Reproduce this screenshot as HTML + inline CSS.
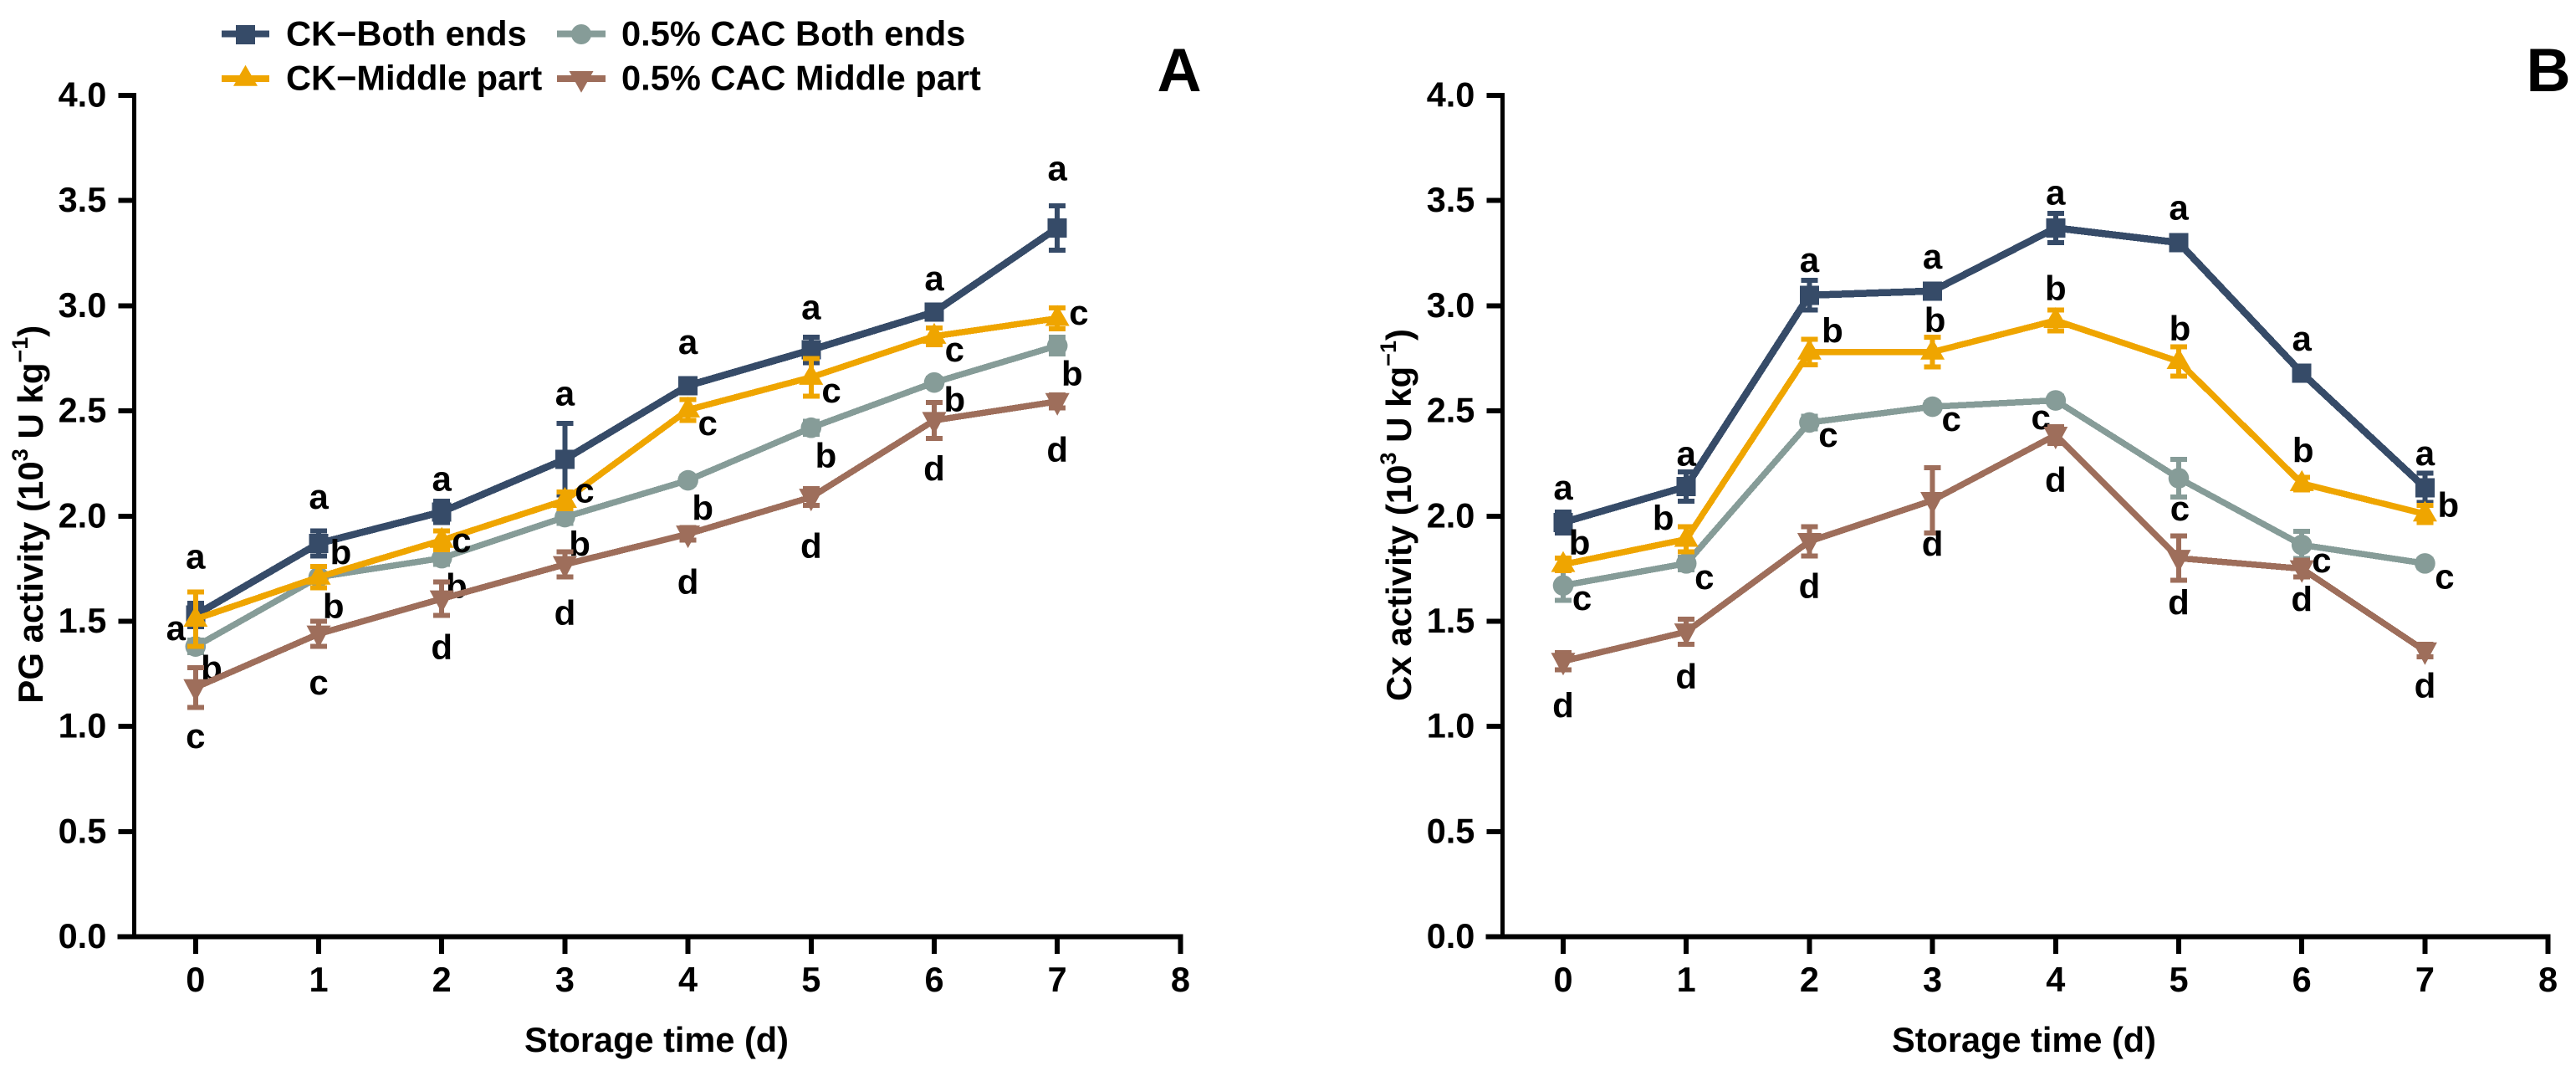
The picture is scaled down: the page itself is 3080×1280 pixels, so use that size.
<!DOCTYPE html>
<html lang="en">
<head>
<meta charset="utf-8">
<title>PG and Cx activity during storage</title>
<style>
html,body{margin:0;padding:0;background:#fff;}
svg{display:block;font-family:"Liberation Sans",Arial,sans-serif;font-weight:bold;fill:#000;}
</style>
</head>
<body>
<svg id="figure" xmlns="http://www.w3.org/2000/svg" width="3080" height="1280" viewBox="0 0 3080 1280">
  <rect width="3080" height="1280" fill="#fff"/>
  <g font-size="41.6">
    <g>
      <rect x="265" y="36.7" width="57" height="8" fill="#364B68" shape-rendering="crispEdges"/>
      <rect x="282" y="30" width="23" height="23" fill="#364B68" shape-rendering="crispEdges"/>
      <text x="342" y="54.5">CK−Both ends</text>
    </g>
    <g>
      <rect x="265" y="90" width="57" height="8" fill="#EFA500" shape-rendering="crispEdges"/>
      <polygon points="293.5,77.7 308,102.7 279,102.7" fill="#EFA500"/>
      <text x="342" y="107.5">CK−Middle part</text>
    </g>
    <g>
      <rect x="666" y="36.7" width="58" height="8" fill="#869C98" shape-rendering="crispEdges"/>
      <circle cx="695" cy="41" r="12" fill="#869C98"/>
      <text x="743" y="54.5">0.5% CAC Both ends</text>
    </g>
    <g>
      <rect x="666" y="90" width="58" height="8" fill="#9E6E5B" shape-rendering="crispEdges"/>
      <polygon points="680.5,85 709.5,85 695,110.7" fill="#9E6E5B"/>
      <text x="743" y="107.5">0.5% CAC Middle part</text>
    </g>
  </g>
  <text x="1410" y="109" font-size="73.5" text-anchor="middle">A</text>
  <text x="3047" y="109" font-size="73.5" text-anchor="middle">B</text>
  <text transform="translate(51,840.7) rotate(-90)" font-size="42">PG activity (10<tspan font-size="27" dy="-18">3</tspan><tspan dy="18"> U kg</tspan><tspan font-size="27" dy="-18">−1</tspan><tspan dy="18">)</tspan></text>
  <text transform="translate(1687,838) rotate(-90)" font-size="42">Cx activity (10<tspan font-size="27" dy="-18">3</tspan><tspan dy="18"> U kg</tspan><tspan font-size="27" dy="-18">−1</tspan><tspan dy="18">)</tspan></text>
  <text x="785" y="1257" font-size="41.5" text-anchor="middle">Storage time (d)</text>
  <text x="2420" y="1257" font-size="41.5" text-anchor="middle">Storage time (d)</text>
  <g id="panel-a"></g>
  <g id="panel-b"></g>
</svg>
<script>
/* Shared axis data */
const days = [0, 1, 2, 3, 4, 5, 6, 7];
const xTickLabels = ["0", "1", "2", "3", "4", "5", "6", "7", "8"];
const yTickLabels = ["0.0", "0.5", "1.0", "1.5", "2.0", "2.5", "3.0", "3.5", "4.0"];
const seriesNames = ["ck-both-ends", "cac-both-ends", "ck-middle-part", "cac-middle-part"];

/* Panel A: PG activity, means */
const pgCkBoth = [1.53, 1.87, 2.02, 2.27, 2.62, 2.79, 2.97, 3.37];
const pgCacBoth = [1.38, 1.71, 1.80, 1.995, 2.17, 2.42, 2.635, 2.81];
const pgCkMiddle = [1.51, 1.71, 1.885, 2.075, 2.505, 2.66, 2.855, 2.94];
const pgCacMiddle = [1.185, 1.44, 1.607, 1.77, 1.915, 2.09, 2.455, 2.545];
/* Panel A: error */
const pgCkBothErr = [0.055, 0.06, 0.05, 0.17, 0.03, 0.06, 0.03, 0.105];
const pgCacBothErr = [0.03, 0.05, 0.03, 0.03, 0.02, 0.03, 0.02, 0.04];
const pgCkMiddleErr = [0.13, 0.05, 0.045, 0.04, 0.05, 0.09, 0.04, 0.05];
const pgCacMiddleErr = [0.095, 0.06, 0.08, 0.06, 0.03, 0.04, 0.085, 0.03];
/* Panel A: significance letters */
const pgCkBothLetters = ["a", "a", "a", "a", "a", "a", "a", "a"];
const pgCacBothLetters = ["b", "b", "b", "b", "b", "b", "b", "b"];
const pgCkMiddleLetters = ["a", "b", "c", "c", "c", "c", "c", "c"];
const pgCacMiddleLetters = ["c", "c", "d", "d", "d", "d", "d", "d"];
/* Panel A: letter offsets from each mean, in days and in activity units */
const pgCkBothLetterDay = [0, 0, 0, 0, 0, 0, 0, 0];
const pgCkBothLetterRise = [0.22, 0.165, 0.10, 0.256, 0.15, 0.145, 0.103, 0.226];
const pgCacBothLetterDay = [0.13, 0.12, 0.12, 0.12, 0.12, 0.12, 0.165, 0.12];
const pgCacBothLetterRise = [-0.16, -0.196, -0.19, -0.185, -0.188, -0.19, -0.138, -0.19];
const pgCkMiddleLetterDay = [-0.16, 0.18, 0.16, 0.16, 0.16, 0.165, 0.165, 0.175];
const pgCkMiddleLetterRise = [-0.10, 0.06, -0.057, -0.01, -0.12, -0.12, -0.12, -0.03];
const pgCacMiddleLetterDay = [0, 0, 0, 0, 0, 0, 0, 0];
const pgCacMiddleLetterRise = [-0.288, -0.288, -0.287, -0.288, -0.285, -0.29, -0.286, -0.287];

/* Panel B: Cx activity, means */
const cxCkBoth = [1.97, 2.14, 3.05, 3.07, 3.37, 3.30, 2.68, 2.135];
const cxCacBoth = [1.67, 1.775, 2.445, 2.52, 2.55, 2.18, 1.863, 1.775];
const cxCkMiddle = [1.77, 1.89, 2.78, 2.78, 2.93, 2.735, 2.155, 2.01];
const cxCacMiddle = [1.31, 1.45, 1.88, 2.075, 2.385, 1.80, 1.75, 1.36];
/* Panel B: error */
const cxCkBothErr = [0.05, 0.07, 0.07, 0.03, 0.07, 0.03, 0.02, 0.07];
const cxCacBothErr = [0.07, 0.03, 0.03, 0.02, 0.02, 0.09, 0.065, 0.02];
const cxCkMiddleErr = [0.03, 0.06, 0.06, 0.07, 0.05, 0.07, 0.03, 0.04];
const cxCacMiddleErr = [0.04, 0.06, 0.07, 0.155, 0.04, 0.105, 0.04, 0.03];
/* Panel B: significance letters */
const cxCkBothLetters = ["a", "a", "a", "a", "a", "a", "a", "a"];
const cxCacBothLetters = ["c", "c", "c", "c", "c", "c", "c", "c"];
const cxCkMiddleLetters = ["b", "b", "b", "b", "b", "b", "b", "b"];
const cxCacMiddleLetters = ["d", "d", "d", "d", "d", "d", "d", "d"];
/* Panel B: letter offsets from each mean, in days and in activity units */
const cxCkBothLetterDay = [0, 0, 0, 0, 0, 0, 0, 0];
const cxCkBothLetterRise = [0.108, 0.10, 0.11, 0.106, 0.11, 0.11, 0.107, 0.106];
const cxCacBothLetterDay = [0.153, 0.147, 0.153, 0.153, -0.12, 0.01, 0.16, 0.16];
const cxCacBothLetterRise = [-0.117, -0.122, -0.115, -0.116, -0.138, -0.20, -0.13, -0.12];
const cxCkMiddleLetterDay = [0.133, -0.187, 0.187, 0.02, 0, 0.01, 0.01, 0.19];
const cxCkMiddleLetterRise = [0.047, 0.044, 0.045, 0.095, 0.095, 0.10, 0.10, -0.015];
const cxCacMiddleLetterDay = [0, 0, 0, 0, 0, 0, 0, 0];
const cxCacMiddleLetterRise = [-0.268, -0.27, -0.27, -0.265, -0.27, -0.269, -0.203, -0.224];

const colors = ["#364B68", "#869C98", "#EFA500", "#9E6E5B"];
const lineWidths = [8.5, 7.5, 7.5, 7.5];
const shapes = ["square", "circle", "up", "down"];
const NS = "http://www.w3.org/2000/svg";

function make(tag, attrs, parent) {
  const el = document.createElementNS(NS, tag);
  for (const k in attrs) el.setAttribute(k, attrs[k]);
  parent.appendChild(el);
  return el;
}

function drawPanel(root, axisX, firstDayX, means, errs, letters, letterDays, letterRises) {
  const dayWidth = 147.2;
  const x = d => firstDayX + d * dayWidth;
  const y = v => 1119.6 - v * 251.4;

  /* axes */
  const yLine = make("rect", {x: axisX - 2.5, y: y(4) - 3, width: 5, height: y(0) - y(4) + 6, fill: "#000", "shape-rendering": "crispEdges"}, root);
  
  
  const xLine = make("rect", {x: axisX - 20, y: y(0) - 3, width: x(8) - axisX + 23, height: 6, fill: "#000", "shape-rendering": "crispEdges"}, root);
  
  

  yTickLabels.forEach(label => {
    const v = parseFloat(label);
    const tick = make("rect", {x: axisX - 19, y: y(v) - 3, width: 19, height: 6, fill: "#000", "shape-rendering": "crispEdges"}, root);
    
    
    const t = make("text", {x: axisX - 33, y: y(v) + 13.5, "font-size": 41.5, "text-anchor": "end"}, root);
    t.textContent = label;
    
    
  });
  xTickLabels.forEach(label => {
    const d = parseFloat(label);
    const tick = make("rect", {x: x(d) - 3, y: y(0), width: 6, height: 20.5, fill: "#000", "shape-rendering": "crispEdges"}, root);
    
    
    const t = make("text", {x: x(d), y: 1185, "font-size": 41.5, "text-anchor": "middle"}, root);
    t.textContent = label;
    
    
  });

  function drawLetters(s) {
    days.forEach((d, i) => {
      const t = make("text", {x: x(d + letterDays[s][i]), y: y(means[s][i] + letterRises[s][i]), "font-size": 42, "text-anchor": "middle"}, root);
      t.textContent = letters[s][i];
      
      
    });
  }

  function drawSeries(s) {
    const values = means[s];
    const g = make("g", {fill: colors[s]}, root);
    
    
    const line = make("polyline", {
      points: days.map((d, i) => x(d) + "," + y(values[i])).join(" "),
      fill: "none", stroke: colors[s], "stroke-width": lineWidths[s], "stroke-linejoin": "round", "shape-rendering": "crispEdges"
    }, g);
    
    
    days.forEach((d, i) => {
      const cx = x(d), cy = y(values[i]);
      const top = y(values[i] + errs[s][i]), bottom = y(values[i] - errs[s][i]);
      const bar = make("path", {
        d: "M" + cx + " " + top + "V" + bottom + "M" + (cx - 10) + " " + top + "H" + (cx + 10) + "M" + (cx - 10) + " " + bottom + "H" + (cx + 10),
        fill: "none", stroke: colors[s], "stroke-width": 6, "shape-rendering": "crispEdges"
      }, g);
      
      
      let marker;
      if (shapes[s] === "square") {
        marker = make("rect", {x: cx - 11.5, y: cy - 11.5, width: 23, height: 23, "shape-rendering": "crispEdges"}, g);
      } else if (shapes[s] === "circle") {
        marker = make("circle", {cx: cx, cy: cy, r: 12.3}, g);
      } else if (shapes[s] === "up") {
        marker = make("polygon", {points: cx + "," + (cy - 16) + " " + (cx + 14.5) + "," + (cy + 9) + " " + (cx - 14.5) + "," + (cy + 9)}, g);
      } else {
        marker = make("polygon", {points: (cx - 14.5) + "," + (cy - 10) + " " + (cx + 14.5) + "," + (cy - 10) + " " + cx + "," + (cy + 17)}, g);
      }
      
      
    });
  }

  /* stacking seen in the figure: the CAC both-ends letters lie under the
     brown series, the remaining letters lie over the lines */
  drawSeries(0);
  drawSeries(1);
  drawSeries(2);
  drawLetters(1);
  drawSeries(3);
  drawLetters(0);
  drawLetters(2);
  drawLetters(3);
}

drawPanel(document.getElementById("panel-a"), 160.3, 233.8,
  [pgCkBoth, pgCacBoth, pgCkMiddle, pgCacMiddle],
  [pgCkBothErr, pgCacBothErr, pgCkMiddleErr, pgCacMiddleErr],
  [pgCkBothLetters, pgCacBothLetters, pgCkMiddleLetters, pgCacMiddleLetters],
  [pgCkBothLetterDay, pgCacBothLetterDay, pgCkMiddleLetterDay, pgCacMiddleLetterDay],
  [pgCkBothLetterRise, pgCacBothLetterRise, pgCkMiddleLetterRise, pgCacMiddleLetterRise]);

drawPanel(document.getElementById("panel-b"), 1796.4, 1869,
  [cxCkBoth, cxCacBoth, cxCkMiddle, cxCacMiddle],
  [cxCkBothErr, cxCacBothErr, cxCkMiddleErr, cxCacMiddleErr],
  [cxCkBothLetters, cxCacBothLetters, cxCkMiddleLetters, cxCacMiddleLetters],
  [cxCkBothLetterDay, cxCacBothLetterDay, cxCkMiddleLetterDay, cxCacMiddleLetterDay],
  [cxCkBothLetterRise, cxCacBothLetterRise, cxCkMiddleLetterRise, cxCacMiddleLetterRise]);
</script>
</body>
</html>
